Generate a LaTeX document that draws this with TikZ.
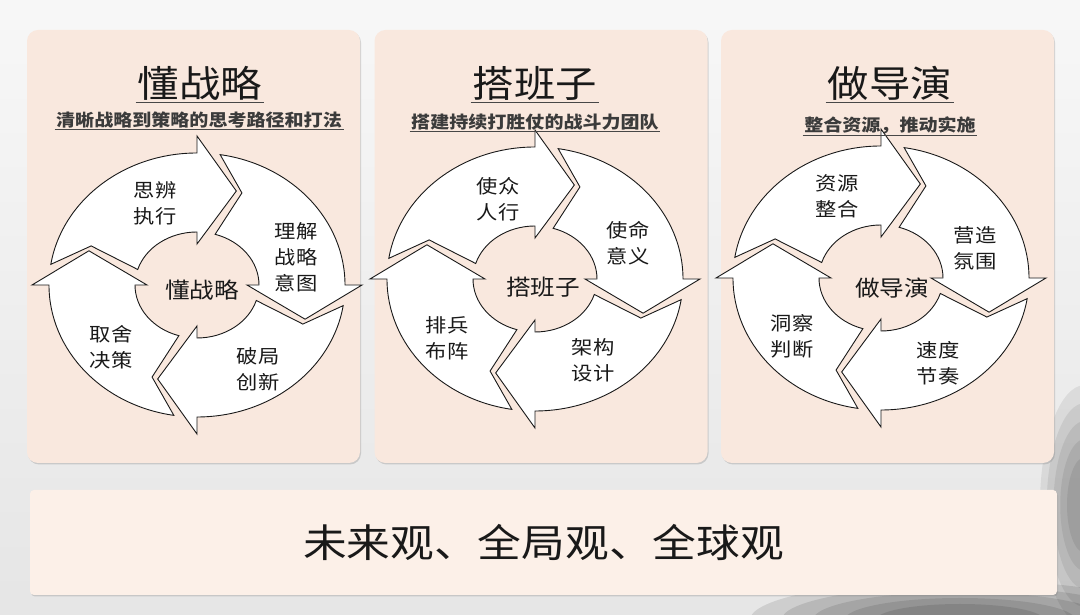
\documentclass[tikz,border=0pt]{standalone}
\usepackage{fontspec}
\setmainfont{Noto Sans CJK SC}[FakeStretch=1.12]
\usetikzlibrary{shadows,calc}
\definecolor{peach}{RGB}{249,232,222}
\definecolor{cream}{RGB}{252,240,232}
\definecolor{ink}{RGB}{25,25,25}
\tikzset{
  panelbox/.style={fill=#1,rounded corners=11pt,minimum width=333pt,minimum height=433pt,
    drop shadow={shadow xshift=1pt,shadow yshift=-1.5pt,opacity=0.3}},
  panelbox/.default=peach,
  ringarrow/.style={draw=ink,fill=white,line width=0.9pt,line join=miter},
  titletxt/.style={font=\fontsize{37}{40}\selectfont,text=ink,inner sep=2pt},
  subtxt/.style={font=\fontsize{17}{18}\selectfont\bfseries,text=ink!85,inner sep=1.5pt},
  uline/.style={draw=ink!80,line width=1.4pt},
  steptxt/.style={font=\fontsize{19}{26}\selectfont,text=ink,align=center},
  hubtxt/.style={font=\fontsize{22}{24}\selectfont,text=ink},
  wash/.style={fill=black,opacity=#1},
  wash/.default=0.1,
  % four arrows chasing each other round an ellipse
  pics/cyclering/.style={code={
    \foreach \b in {90,0,-90,180}
      \draw[ringarrow] (\b+81:148pt and 132pt)
        arc[start angle=\b+81,end angle=\b,x radius=148pt,y radius=132pt]
        -- (\b:165pt and 149pt) -- (\b-20:115pt and 100pt) -- (\b:50pt and 41pt)
        -- (\b:62pt and 53pt)
        arc[start angle=\b,end angle=\b+73,x radius=62pt,y radius=53pt]
        -- (\b+67:115pt and 100pt) -- cycle;
  }},
}
\begin{document}
\begin{tikzpicture}[x=1pt,y=1pt]
  \useasboundingbox (0,0) rectangle (1080,615);
  % backdrop with ink wash
  \begin{scope}
    \clip (0,0) rectangle (1080,615);
    \shade[top color=black!3,bottom color=black!10] (0,0) rectangle (1080,615);
    \foreach \s in {1,0.85,0.7,0.55,0.4}{
      \fill[wash] (960,-5) ellipse[x radius=210*\s,y radius=40*\s];
      \fill[wash=0.07] (1085,110) ellipse[x radius=45*\s,y radius=120*\s];
    }
  \end{scope}
  % panels and rings
  \foreach \i/\px/\cx/\cy in {1/193.5/197/330,2/541/535/336,3/887.5/881/337}{
    \node[panelbox] (panel\i) at (\px,368.5) {};
    \coordinate (c\i) at (\cx,\cy);
    \pic at (c\i) {cyclering};
  }
  \node[panelbox=cream,minimum width=1027pt,minimum height=105pt,rounded corners=4pt,
    font=\fontsize{39}{42}\selectfont,text=ink] (bar) at (543.5,72.5) {未来观、全局观、全球观};

  % panel 1
  \node[titletxt] (t1) at (200,532) {懂战略};
  \draw[uline] (t1.south west) -- (t1.south east);
  \node[subtxt] (s1) at (199,495) {清晰战略到策略的思考路径和打法};
  \draw[uline,line width=1pt] (s1.south west) -- (s1.south east);
  \node[steptxt] (c1a) at ([shift={(-42,82)}]c1) {思辨\\执行};
  \node[steptxt] (c1b) at ([shift={(99,28)}]c1) {理解\\战略\\意图};
  \node[steptxt] (c1c) at ([shift={(61,-84)}]c1) {破局\\创新};
  \node[steptxt] (c1d) at ([shift={(-86,-62)}]c1) {取舍\\决策};
  \node[hubtxt] (h1) at ([shift={(5,-5)}]c1) {懂战略};

  % panel 2
  \node[titletxt] (t2) at (535,532) {搭班子};
  \draw[uline] (t2.south west) -- (t2.south east);
  \node[subtxt] (s2) at (535,493) {搭建持续打胜仗的战斗力团队};
  \draw[uline,line width=1pt] (s2.south west) -- (s2.south east);
  \node[steptxt] (c2a) at ([shift={(-37,80)}]c2) {使众\\人行};
  \node[steptxt] (c2b) at ([shift={(93,36)}]c2) {使命\\意义};
  \node[steptxt] (c2c) at ([shift={(58,-81)}]c2) {架构\\设计};
  \node[steptxt] (c2d) at ([shift={(-88,-59)}]c2) {排兵\\布阵};
  \node[hubtxt] (h2) at ([shift={(8,-8)}]c2) {搭班子};

  % panel 3
  \node[titletxt] (t3) at (890,532) {做导演};
  \draw[uline] (t3.south west) -- (t3.south east);
  \node[subtxt] (s3) at (890,490) {整合资源，推动实施};
  \draw[uline,line width=1pt] (s3.south west) -- (s3.south east);
  \node[steptxt] (c3a) at ([shift={(-44,82)}]c3) {资源\\整合};
  \node[steptxt] (c3b) at ([shift={(94,30)}]c3) {营造\\氛围};
  \node[steptxt] (c3c) at ([shift={(57,-85)}]c3) {速度\\节奏};
  \node[steptxt] (c3d) at ([shift={(-89,-58)}]c3) {洞察\\判断};
  \node[hubtxt] (h3) at ([shift={(11,-10)}]c3) {做导演};
\end{tikzpicture}
\end{document}
